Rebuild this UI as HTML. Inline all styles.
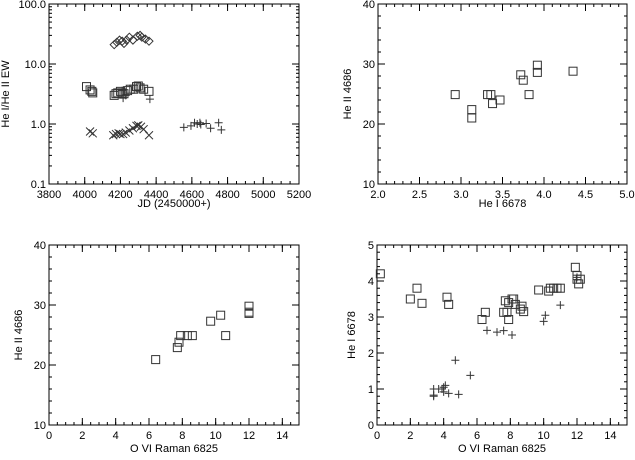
<!DOCTYPE html>
<html><head><meta charset="utf-8"><style>
body{margin:0;background:#fff;width:635px;height:455px;overflow:hidden}
svg text{font-family:"Liberation Sans",Helvetica,sans-serif;font-size:11px;fill:#000}
</style></head><body>
<svg id="chart" width="635" height="455" viewBox="0 0 635 455" xmlns="http://www.w3.org/2000/svg"></svg>
<script>
// Panel 1 (top-left): He I / He II EW vs JD
const p1DiamondJD=[4165,4180,4195,4210,4220,4235,4250,4270,4295,4310,4320,4340,4360];
const p1DiamondVal=[21,23,25,24,22,25,28,25,29,30,28,26,24];
const p1SquareJD=[4010,4030,4040,4045,4165,4175,4185,4200,4210,4220,4240,4255,4275,4290,4300,4310,4330,4360];
const p1SquareVal=[4.2,3.7,3.5,3.3,3.0,3.2,3.3,3.5,3.3,3.2,3.6,3.8,3.8,4.2,4.3,4.0,3.8,3.5];
const p1CrossJD=[4030,4045,4160,4175,4190,4200,4215,4230,4250,4270,4290,4300,4315,4330,4360];
const p1CrossVal=[0.75,0.7,0.65,0.68,0.7,0.68,0.68,0.72,0.78,0.85,0.93,0.95,0.9,0.82,0.65];
const p1PlusJD=[4210,4215,4230,4365,4555,4595,4615,4630,4645,4650,4680,4705,4750,4765];
const p1PlusVal=[3.6,2.7,3.0,2.6,0.88,0.93,1.05,1.0,1.05,0.98,1.02,0.85,1.05,0.8];
const p1XTicks=["3800","4000","4200","4400","4600","4800","5000","5200"];
const p1YTicks=["0.1","1.0","10.0","100.0"];
// Panel 2 (top-right): He II 4686 vs He I 6678
const p2X=[2.93,3.13,3.13,3.32,3.36,3.38,3.47,3.72,3.75,3.82,3.92,3.92,4.35];
const p2Y=[24.9,22.4,21.0,24.9,24.9,23.4,24.0,28.2,27.3,24.9,29.8,28.6,28.8];
const p2XTicks=["2.0","2.5","3.0","3.5","4.0","4.5","5.0"];
const p2YTicks=["10","20","30","40"];
// Panel 3 (bottom-left): He II 4686 vs O VI Raman 6825
const p3X=[6.4,7.7,7.8,7.9,8.3,8.6,9.7,10.3,10.6,12.0,12.0,12.0];
const p3Y=[20.9,22.9,23.8,24.9,24.9,24.9,27.3,28.3,24.9,29.8,28.8,28.6];
const p3XTicks=["0","2","4","6","8","10","12","14"];
const p3YTicks=["10","20","30","40"];
// Panel 4 (bottom-right): He I 6678 vs O VI Raman 6825
const p4SqX=[0.2,2.0,2.4,2.7,4.2,4.3,6.3,6.5,7.6,7.7,7.8,7.9,7.9,8.1,8.2,8.3,8.6,8.7,8.8,9.7,10.3,10.4,10.6,10.8,11.0,11.9,12.0,12.0,12.1,12.2];
const p4SqY=[4.2,3.5,3.8,3.38,3.55,3.35,2.93,3.13,3.13,3.45,3.13,2.93,3.4,3.5,3.5,3.35,3.22,3.3,3.15,3.75,3.72,3.8,3.8,3.8,3.8,4.38,4.15,4.05,3.92,4.05];
const p4PlX=[3.4,3.4,3.4,3.7,3.9,4.0,4.0,4.1,4.3,4.7,4.9,5.6,6.6,7.2,7.6,8.1,10.0,10.1,11.0,12.0];
const p4PlY=[1.0,0.8,0.83,1.0,1.0,1.05,0.92,1.1,0.88,1.8,0.85,1.38,2.63,2.58,2.62,2.5,2.88,3.05,3.33,4.1];
const p4XTicks=["0","2","4","6","8","10","12","14"];
const p4YTicks=["0","1","2","3","4","5"];

const NS="http://www.w3.org/2000/svg";
const svg=document.getElementById('chart');
function mk(tag,attrs,parent){const e=document.createElementNS(NS,tag);for(const k in attrs)e.setAttribute(k,attrs[k]);(parent||svg).appendChild(e);return e;}
const COL="#333";

function panel(name,box,xmin,xmax,ymin,ymax,logY,xTicks,yTicks,xMinor,yMinor,xtitle,ytitle,ytOff,xtOff){
  const g=mk('g',{});
  
  
  const [L,T,R,B]=box;
  const sx=v=>L+(v-xmin)/(xmax-xmin)*(R-L);
  const sy=logY?(v=>B-(Math.log10(v)-Math.log10(ymin))/(Math.log10(ymax)-Math.log10(ymin))*(B-T)):(v=>B-(v-ymin)/(ymax-ymin)*(B-T));
  const frame=mk('rect',{x:L,y:T,width:R-L,height:B-T,fill:'none',stroke:'#000','stroke-width':1},g);
  
  
  xTicks.forEach(t=>{const v=parseFloat(t),x=sx(v);
    mk('line',{x1:x,y1:B,x2:x,y2:B-7,stroke:'#000'},g);mk('line',{x1:x,y1:T,x2:x,y2:T+7,stroke:'#000'},g);
    const tx=mk('text',{x:x,y:B+14,'text-anchor':'middle'},g);tx.textContent=t;
    
    });
  for(let v=xmin;v<=xmax+1e-9;v+=xMinor){const x=sx(v);
    mk('line',{x1:x,y1:B,x2:x,y2:B-3,stroke:'#000'},g);mk('line',{x1:x,y1:T,x2:x,y2:T+3,stroke:'#000'},g);}
  yTicks.forEach(t=>{const v=parseFloat(t),y=sy(v);
    mk('line',{x1:L,y1:y,x2:L+7,y2:y,stroke:'#000'},g);mk('line',{x1:R,y1:y,x2:R-7,y2:y,stroke:'#000'},g);
    const tx=mk('text',{x:L-3,y:y+4,'text-anchor':'end'},g);tx.textContent=t;
    
    });
  if(logY){for(let d=Math.log10(ymin);d<Math.log10(ymax);d++)for(let m=2;m<=9;m++){const y=sy(m*Math.pow(10,d));
    mk('line',{x1:L,y1:y,x2:L+3,y2:y,stroke:'#000'},g);mk('line',{x1:R,y1:y,x2:R-3,y2:y,stroke:'#000'},g);}}
  else{for(let v=ymin;v<=ymax+1e-9;v+=yMinor){const y=sy(v);
    mk('line',{x1:L,y1:y,x2:L+3,y2:y,stroke:'#000'},g);mk('line',{x1:R,y1:y,x2:R-3,y2:y,stroke:'#000'},g);}}
  const xt=mk('text',{x:(L+R)/2,y:B+xtOff,'text-anchor':'middle'},g);xt.textContent=xtitle;
  
  
  const yx=L-ytOff,yy=(T+B)/2;
  const yt=mk('text',{x:yx,y:yy,'text-anchor':'middle',transform:`rotate(-90 ${yx} ${yy})`},g);yt.textContent=ytitle;
  
  
  return {g,sx,sy};
}
function sym(p,type,xs,ys,name){
  const g=mk('g',{fill:'none',stroke:COL,'stroke-width':1},p.g);
  
  
  xs.forEach((xv,i)=>{const x=p.sx(xv),y=p.sy(ys[i]);let e;
    if(type==='square')e=mk('rect',{x:x-4,y:y-4,width:8,height:8},g);
    else if(type==='diamond')e=mk('path',{d:`M${x} ${y-4}L${x+4} ${y}L${x} ${y+4}L${x-4} ${y}Z`},g);
    else if(type==='cross')e=mk('path',{d:`M${x-4} ${y-4}L${x+4} ${y+4}M${x+4} ${y-4}L${x-4} ${y+4}`},g);
    else e=mk('path',{d:`M${x-4} ${y}L${x+4} ${y}M${x} ${y-4}L${x} ${y+4}`},g);
    
    });
}
const P1=panel('panel-ratio-vs-jd',[49,4,299,184],3800,5200,0.1,100,true,p1XTicks,p1YTicks,50,0,'JD (2450000+)','He I/He II EW',40,23);
sym(P1,'diamond',p1DiamondJD,p1DiamondVal,'diamond-series');
sym(P1,'square',p1SquareJD,p1SquareVal,'square-series');
sym(P1,'cross',p1CrossJD,p1CrossVal,'cross-series');
sym(P1,'plus',p1PlusJD,p1PlusVal,'plus-series');
const P2=panel('panel-heii-vs-hei',[378,4,627,184],2,5,10,40,false,p2XTicks,p2YTicks,0.1,2,'He I 6678','He II 4686',27,23);
sym(P2,'square',p2X,p2Y,'square-series');
const P3=panel('panel-heii-vs-ovi',[49,245,299,425],0,15,10,40,false,p3XTicks,p3YTicks,0.5,2,'O VI Raman 6825','He II 4686',27,27);
sym(P3,'square',p3X,p3Y,'square-series');
const P4=panel('panel-hei-vs-ovi',[377,245,627,425],0,15,0,5,false,p4XTicks,p4YTicks,0.5,0.2,'O VI Raman 6825','He I 6678',22,27);
sym(P4,'square',p4SqX,p4SqY,'square-series');
sym(P4,'plus',p4PlX,p4PlY,'plus-series');
</script>
</body></html>
